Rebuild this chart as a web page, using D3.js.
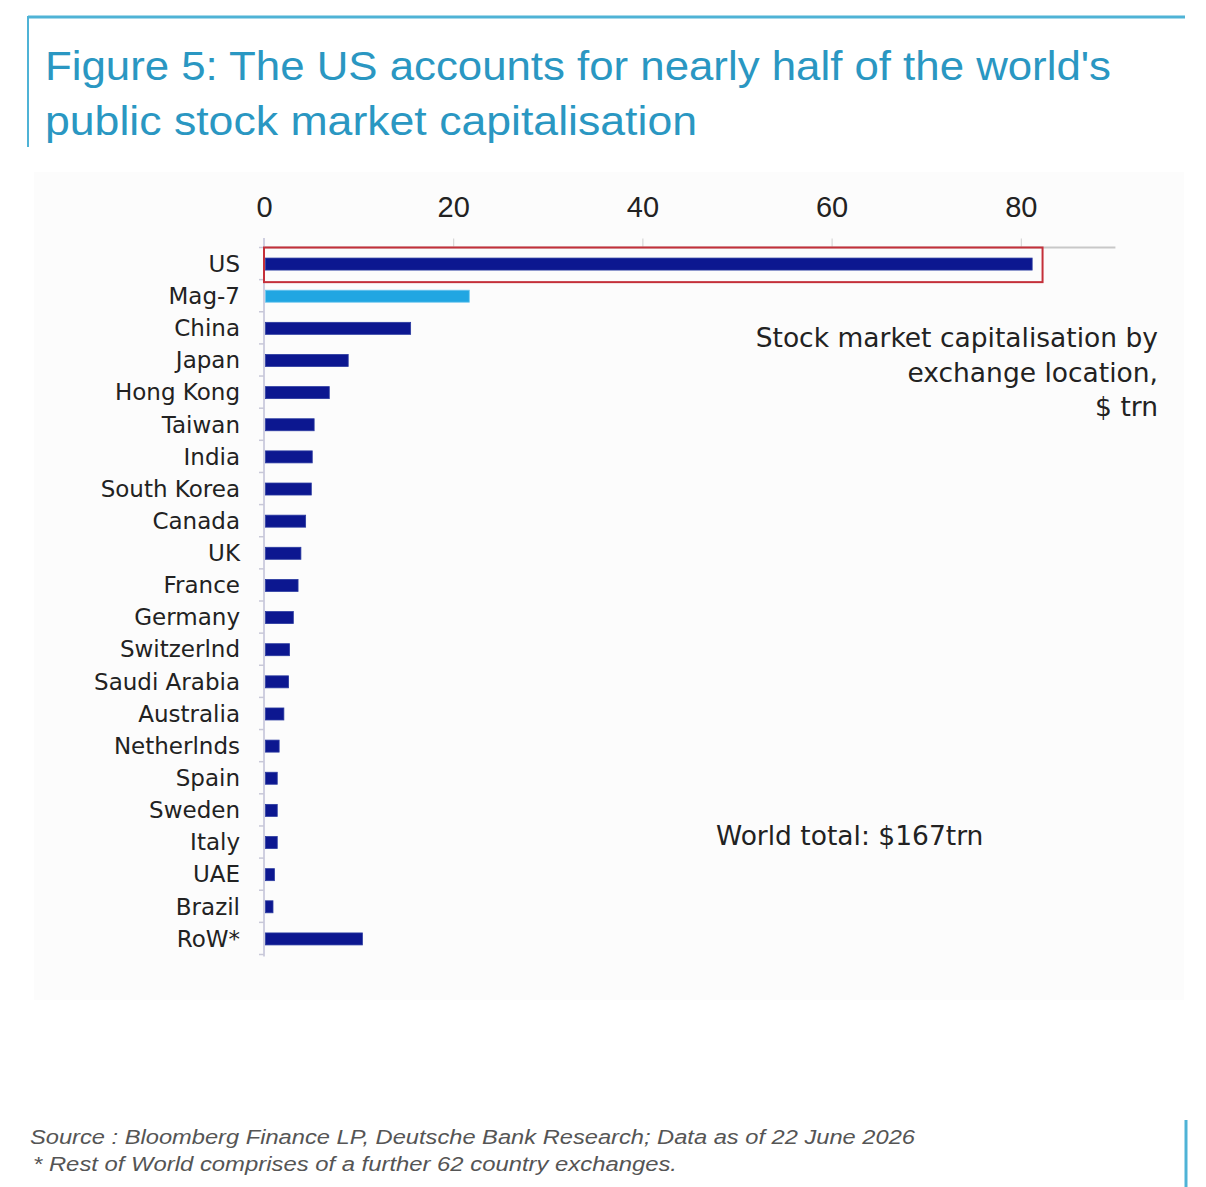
<!DOCTYPE html>
<html><head><meta charset="utf-8">
<script src="https://cdn.jsdelivr.net/npm/d3@7"></script>
<style>
html,body{margin:0;padding:0;background:#fff;}
svg{display:block;font-family:"DejaVu Sans","Liberation Sans",Arial,sans-serif;}
</style></head>
<body>
<svg id="chart" width="1206" height="1187"></svg>
<script>
const categories = ["US","Mag-7","China","Japan","Hong Kong","Taiwan","India","South Korea","Canada","UK","France","Germany","Switzerlnd","Saudi Arabia","Australia","Netherlnds","Spain","Sweden","Italy","UAE","Brazil","RoW*"];
const values = [81.2,21.7,15.5,8.9,6.9,5.3,5.1,5.0,4.4,3.9,3.6,3.1,2.7,2.6,2.1,1.6,1.4,1.4,1.4,1.1,0.95,10.4];
const highlighted = ["Mag-7"];
const xTicks = [0,20,40,60,80];
const titleLines = ["Figure 5: The US accounts for nearly half of the world's","public stock market capitalisation"];
const noteLines = ["Stock market capitalisation by","exchange location,","$ trn"];
const totalNote = "World total: $167trn";
const footLines = ["Source : Bloomberg Finance LP, Deutsche Bank Research; Data as of 22 June 2026","* Rest of World comprises of a further 62 country exchanges."];
const boxEnd = 82.3;

const svg = d3.select("#chart");
const teal = "#2a97c2";

// frame lines
svg.append("line").attr("x1",28).attr("x2",1185).attr("y1",17).attr("y2",17).attr("stroke","#4fb3d6").attr("stroke-width",3);
svg.append("line").attr("x1",28).attr("x2",28).attr("y1",16).attr("y2",147).attr("stroke","#4fb3d6").attr("stroke-width",2);
svg.append("line").attr("x1",1186).attr("x2",1186).attr("y1",1120).attr("y2",1187).attr("stroke","#4fb3d6").attr("stroke-width",3);

// title
const titleW = [1066, 652];
svg.selectAll("text.title").data(titleLines).join("text").attr("class","title")
  .attr("x",45).attr("y",(d,i)=>80+i*55)
  .attr("font-size",40).attr("fill",teal).attr("font-family","Liberation Sans, Arial, sans-serif")
  .attr("textLength",(d,i)=>titleW[i]).attr("lengthAdjust","spacingAndGlyphs")
  .text(d=>d);

// panel
svg.append("rect").attr("x",34).attr("y",172).attr("width",1150).attr("height",828).attr("fill","#fcfcfc");

const x = d3.scaleLinear().domain([0,90]).range([264, 264+90*9.46]);
const y = d3.scaleBand().domain(categories).range([247.5, 954.5]).paddingInner(0).paddingOuter(0);
const step = y.step();
const barH = 12;

// top axis
const xAxis = d3.axisTop(x).tickValues(xTicks).tickSize(9).tickPadding(22).tickFormat(d3.format("d"));
const gx = svg.append("g").attr("transform",`translate(0,${247.5})`).call(xAxis);
gx.select(".domain").attr("stroke","#c8c8c8").attr("stroke-width",2).attr("d",`M${x(0)},0H${x(90)}`);
gx.selectAll(".tick line").attr("stroke","#d0d0d0");
gx.selectAll(".tick text").attr("font-size",29).attr("fill","#222").attr("font-family","Liberation Sans, Arial, sans-serif");

// left axis
const yAxis = d3.axisLeft(y).tickSize(0).tickPadding(24);
const gy = svg.append("g").attr("transform",`translate(${x(0)},0)`).call(yAxis);
gy.select(".domain").attr("stroke","#cfcfe0").attr("stroke-width",2).attr("d",`M0,238V${y.range()[1]+2}`);
gy.selectAll(".tick text").attr("font-size",23).attr("fill","#222").attr("dy","0.36em")
  .attr("font-family","DejaVu Sans, sans-serif");
// band boundary ticks
svg.append("g").selectAll("line").data(categories.concat(["_end"])).join("line")
  .attr("x1",x(0)-5).attr("x2",x(0))
  .attr("y1",(d,i)=> y.range()[0] + i*step).attr("y2",(d,i)=> y.range()[0] + i*step)
  .attr("stroke","#c8c8d8").attr("stroke-width",1.5);

// bars
svg.append("g").selectAll("rect").data(categories).join("rect")
  .attr("x",x(0)+1.5)
  .attr("y",d=>y(d)+step/2-barH/2+0.5)
  .attr("width",(d,i)=>x(values[i])-x(0)-1.5)
  .attr("height",barH)
  .attr("fill",d=>highlighted.includes(d)?"#21a6e2":"#0c1790")
  .attr("stroke",d=>highlighted.includes(d)?"#6cc6ee":"#2a3aa0").attr("stroke-width",0.8);

// highlight box around US
svg.append("rect").attr("x",x(0)).attr("y",y("US")).attr("width",x(boxEnd)-x(0)).attr("height",step+2.5)
  .attr("fill","none").attr("stroke","#c4303a").attr("stroke-width",2);

// notes
svg.selectAll("text.note").data(noteLines).join("text").attr("class","note")
  .attr("x",1158).attr("y",(d,i)=>347+i*34.5).attr("text-anchor","end")
  .attr("font-size",26.5).attr("fill","#222").text(d=>d);
svg.append("text").attr("x",716).attr("y",845).attr("font-size",26.5).attr("fill","#222").text(totalNote);

// footer
const footW = [885, 644];
svg.selectAll("text.foot").data(footLines).join("text").attr("class","foot")
  .attr("x",(d,i)=>i?33:30).attr("y",(d,i)=>1144+i*27)
  .attr("font-size",20).attr("font-style","italic").attr("fill","#555").attr("font-family","Liberation Sans, Arial, sans-serif")
  .attr("textLength",(d,i)=>footW[i]).attr("lengthAdjust","spacingAndGlyphs")
  .text(d=>d);
</script>
</body></html>
